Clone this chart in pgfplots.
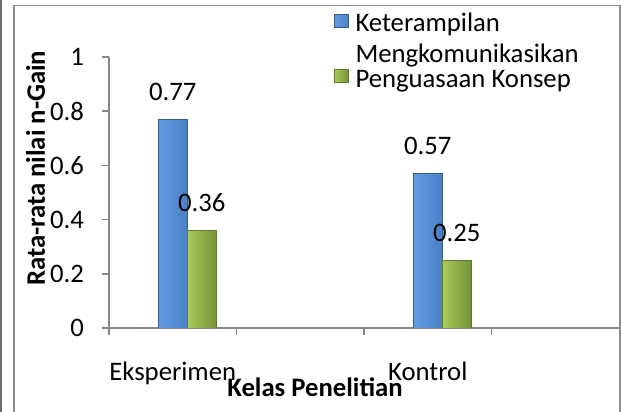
\documentclass[border=0pt]{standalone}
\usepackage{fontspec}
\setmainfont{Carlito}
\usepackage{pgfplots}
\pgfplotsset{compat=1.18}
\definecolor{axisgray}{RGB}{134,134,134}
\definecolor{framegray}{RGB}{140,140,140}
\definecolor{leftline}{RGB}{110,110,110}
\definecolor{bluebarL}{RGB}{100,155,225}
\definecolor{bluebarR}{RGB}{74,128,198}
\definecolor{blueedge}{RGB}{56,93,138}
\definecolor{greenbarL}{RGB}{168,203,90}
\definecolor{greenbarR}{RGB}{116,146,56}
\definecolor{greenedge}{RGB}{98,122,48}
\begin{document}
\fontsize{26.7bp}{32bp}\selectfont
\begin{tikzpicture}
\useasboundingbox (0,0) rectangle (621bp,412bp);
\begin{axis}[
  at={(109bp,84bp)}, anchor=south west,
  scale only axis, width=510bp, height=271bp,
  xmin=0, xmax=4, ymin=0, ymax=1,
  axis lines=left,
  axis line style={-, draw=axisgray, line width=1.5bp},
  ybar, bar width=29bp,
  xtick={0,1,2,3}, xticklabels={},
  extra x ticks={0.5,2.5},
  extra x tick labels={Eksperimen,Kontrol},
  extra x tick style={major tick length=0pt, xticklabel style={anchor=base, yshift=-52bp}},
  ytick={0,0.2,0.4,0.6,0.8,1},
  tick align=outside, major tick length=7bp,
  tick style={draw=axisgray, line width=1.5bp},
  yticklabel style={xshift=-9bp},
  /pgf/number format/assume math mode=true,
  xlabel={\bfseries Kelas Penelitian},
  xlabel style={at={(axis description cs:0.404,0)}, anchor=base, yshift=-68bp},
  ylabel={\bfseries Rata-rata nilai n-Gain},
  ylabel style={at={(axis description cs:-0.144,0.589)}, anchor=center},
  legend style={draw=none, fill=none, at={(axis description cs:0.441,1.163)}, anchor=north west,
    inner sep=0pt, row sep=4bp, column sep=7bp,
    nodes={inner sep=0pt, text height=18bp, text depth=6bp}},
  legend cell align=left,
  legend image code/.code={\draw[#1,/tikz/.cd] (0bp,-1bp) rectangle (14bp,12bp);},
  bluebar/.style={bar shift=0bp, draw=blueedge, left color=bluebarL, right color=bluebarR,
    nodes near coords, every node near coord/.append style={anchor=base, yshift=19bp, black}},
  greenbar/.style={bar shift=29bp, draw=greenedge, left color=greenbarL, right color=greenbarR,
    nodes near coords, every node near coord/.append style={anchor=base, yshift=19bp, black}},
]
\addplot[bluebar] coordinates {(0.5,0.77)};
\addlegendentry[text depth=9bp]{Keterampilan}
\addlegendimage{empty legend}
\addlegendentry[text depth=3bp]{Mengkomunikasikan}
\addplot[greenbar] coordinates {(0.5,0.36)};
\addlegendentry{Penguasaan Konsep}
\addplot[bluebar, forget plot] coordinates {(2.5,0.57)};
\addplot[greenbar, forget plot] coordinates {(2.5,0.25)};
\end{axis}
\draw[framegray, line width=1.5bp] (14bp,-5bp) -- (14bp,406.25bp) -- (620bp,406.25bp) -- (620bp,-5bp);
\draw[leftline, line width=2bp] (1bp,0bp) -- (1bp,412bp);
\end{tikzpicture}
\end{document}
